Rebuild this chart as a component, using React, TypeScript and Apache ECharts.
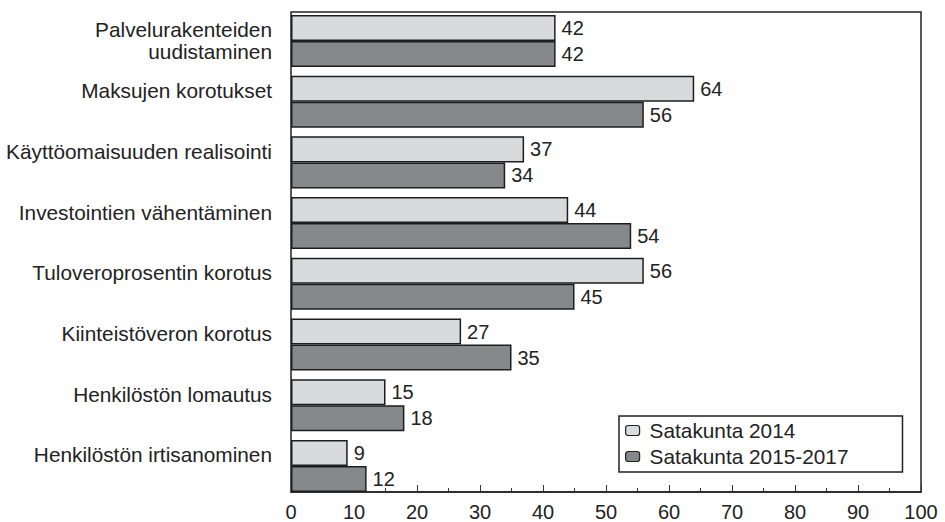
import React, { useEffect, useRef } from "react";
import * as echarts from "echarts";

const categories = [
  "Palvelurakenteiden\nuudistaminen",
  "Maksujen korotukset",
  "Käyttöomaisuuden realisointi",
  "Investointien vähentäminen",
  "Tuloveroprosentin korotus",
  "Kiinteistöveron korotus",
  "Henkilöstön lomautus",
  "Henkilöstön irtisanominen",
];
const series2014 = [42, 64, 37, 44, 56, 27, 15, 9];
const series2015 = [42, 56, 34, 54, 45, 35, 18, 12];
const seriesNames = ["Satakunta 2014", "Satakunta 2015-2017"];
const xMin = 0;
const xMax = 100;
const xInterval = 10;

const FONT = "'Liberation Sans', Arial, Helvetica, sans-serif";
const TEXT = "#222";

export default function App() {
  const ref = useRef<HTMLDivElement>(null);
  useEffect(() => {
    if (!ref.current) return;
    const chart = echarts.init(ref.current, undefined, { renderer: "svg" });
    const barStyle = (color: string) => ({
      color,
      borderColor: "#1e1e1e",
      borderWidth: 1.5,
    });
    const barLabel = {
      show: true,
      position: "right",
      distance: 6,
      fontSize: 20,
      color: TEXT,
      fontFamily: FONT,
    };
    chart.setOption({
      animation: false,
      backgroundColor: "#fff",
      textStyle: { fontFamily: FONT, color: TEXT },
      grid: [
        {
          left: 291,
          right: 24,
          top: 12,
          bottom: 29,
          show: true,
          borderColor: "#222",
          borderWidth: 1.5,
          backgroundColor: "transparent",
        },
        { left: 291, right: 24, top: 10.6, bottom: 25.7 },
      ],
      xAxis: [
        {
          gridIndex: 0,
          type: "value",
          min: xMin,
          max: xMax,
          interval: xInterval,
          axisLine: { show: true, lineStyle: { color: "#222", width: 1.5 } },
          axisTick: { show: true, inside: true, length: 7, lineStyle: { color: "#333", width: 1 } },
          minorTick: { show: true, splitNumber: 2, length: 4, lineStyle: { color: "#333", width: 1 } },
          splitLine: { show: false },
          axisLabel: { fontSize: 20, color: TEXT, fontFamily: FONT, margin: 10 },
        },
        {
          gridIndex: 1,
          type: "value",
          min: xMin,
          max: xMax,
          show: false,
        },
      ],
      yAxis: [
        { gridIndex: 0, type: "value", show: false },
        {
          gridIndex: 1,
          type: "category",
          inverse: true,
          data: categories,
          axisLine: { show: false },
          axisTick: { show: false },
          splitLine: { show: false },
          axisLabel: {
            fontSize: 20.8,
            lineHeight: 22,
            color: TEXT,
            fontFamily: FONT,
            margin: 19,
            align: "right",
            formatter: (v: string) => (v.includes("\n") ? v : v + "\n "),
          },
        },
      ],
      legend: {
        orient: "vertical",
        left: 619,
        top: 416,
        data: seriesNames,
        padding: [4, 54, 5, 6],
        itemGap: 5,
        itemWidth: 14,
        itemHeight: 10,
        borderColor: "#222",
        borderWidth: 1.5,
        backgroundColor: "#fff",
        textStyle: { fontSize: 20.8, color: TEXT, fontFamily: FONT, padding: [0, 0, 0, 5] },
        itemStyle: { borderColor: "#222", borderWidth: 1.2 },
      },
      series: [
        {
          name: seriesNames[0],
          type: "bar",
          xAxisIndex: 1,
          yAxisIndex: 1,
          data: series2014,
          barGap: "0%",
          barCategoryGap: "14.3%",
          itemStyle: barStyle("#d9dadc"),
          label: barLabel,
        },
        {
          name: seriesNames[1],
          type: "bar",
          xAxisIndex: 1,
          yAxisIndex: 1,
          data: series2015,
          barGap: "0%",
          barCategoryGap: "14.3%",
          itemStyle: barStyle("#87888a"),
          label: barLabel,
        },
      ],
    });
    return () => chart.dispose();
  }, []);
  return (
    <div
      ref={ref}
      style={{ position: "fixed", left: 0, top: 0, width: 945, height: 522 }}
    />
  );
}
